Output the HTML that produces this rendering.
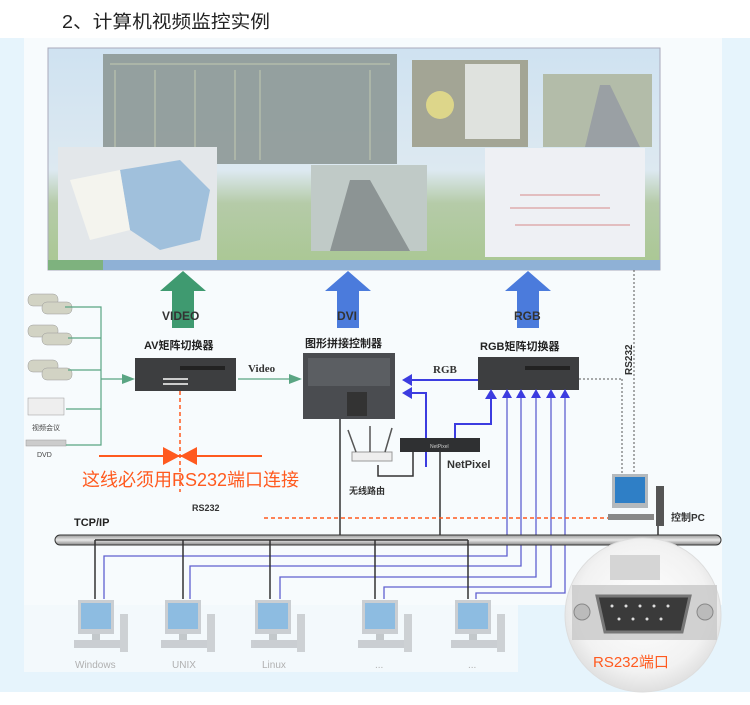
<!DOCTYPE html>
<html><head><meta charset="utf-8"><style>
html,body{margin:0;padding:0;width:750px;height:705px;overflow:hidden;background:#fff}
svg{display:block}
text{font-family:"Liberation Sans","Noto Sans CJK SC",sans-serif}
</style></head><body>
<svg width="750" height="705" viewBox="0 0 750 705" xmlns="http://www.w3.org/2000/svg">
<defs>
<linearGradient id="sky" x1="0" y1="0" x2="0" y2="1"><stop offset="0" stop-color="#cfe2f1"/><stop offset="0.55" stop-color="#dde9f1"/><stop offset="0.7" stop-color="#b5cba8"/><stop offset="1" stop-color="#a9c792"/></linearGradient>
<linearGradient id="bus" x1="0" y1="0" x2="0" y2="1"><stop offset="0" stop-color="#999"/><stop offset="0.5" stop-color="#e8e8e8"/><stop offset="1" stop-color="#888"/></linearGradient>
<radialGradient id="conn" cx="0.5" cy="0.45" r="0.6"><stop offset="0" stop-color="#fff"/><stop offset="0.7" stop-color="#f2f2f2"/><stop offset="1" stop-color="#d8d8d8"/></radialGradient>
<g id="pc" opacity="0.8"><rect x="0" y="0" width="36" height="34" fill="#c0c4c8"/><rect x="3" y="3" width="30" height="26" fill="#74addb"/><rect x="14" y="34" width="8" height="6" fill="#b8bcc0"/><rect x="-4" y="40" width="46" height="8" fill="#c0c4c8"/><rect x="42" y="14" width="8" height="38" fill="#c4c8cb"/></g>
</defs>
<text x="62" y="28" font-size="18" fill="#222" textLength="208" lengthAdjust="spacingAndGlyphs">2、计算机视频监控实例</text>
<rect x="0" y="38" width="750" height="654" fill="#e6f4fc"/>
<rect x="24" y="38" width="698" height="567" fill="#f7fbfd"/>
<rect x="24" y="605" width="494" height="67" fill="#f3f9fc"/>
<!-- screen -->
<rect x="48" y="48" width="612" height="222" fill="url(#sky)" stroke="#aab" />
<rect x="103" y="54" width="294" height="110" fill="#8d9896" opacity="0.9"/>
<g stroke="#d6ddb8" stroke-width="1" opacity="0.7"><line x1="110" y1="64" x2="390" y2="64"/><line x1="115" y1="70" x2="115" y2="160"/><line x1="155" y1="70" x2="155" y2="160"/><line x1="195" y1="70" x2="195" y2="160"/><line x1="235" y1="70" x2="235" y2="160"/><line x1="260" y1="70" x2="260" y2="160"/><line x1="370" y1="70" x2="370" y2="160"/></g>
<rect x="412" y="60" width="116" height="87" fill="#a3a595"/><rect x="465" y="64" width="55" height="75" fill="#dfe2de"/><circle cx="440" cy="105" r="14" fill="#ddd68a"/>
<rect x="543" y="74" width="109" height="73" fill="#b3bca9"/><polygon points="585,147 600,85 610,85 640,147" fill="#9aa0a4"/>
<rect x="58" y="147" width="159" height="113" fill="#e3e7ea"/><path d="M120 170 L180 160 L210 190 L200 240 L160 250 L130 230 Z" fill="#a0c0dc"/><path d="M70 180 L120 170 L130 230 L90 240 Z" fill="#f4f4ee"/>
<rect x="311" y="165" width="116" height="86" fill="#c0cac7"/><polygon points="330,251 350,180 370,180 410,251" fill="#8c9494"/>
<rect x="485" y="148" width="160" height="109" fill="#eef0f4"/><g stroke="#d68a8a" stroke-width="1"><line x1="520" y1="195" x2="600" y2="195"/><line x1="510" y1="208" x2="610" y2="208"/><line x1="515" y1="225" x2="630" y2="225"/></g>
<rect x="48" y="260" width="612" height="10" fill="#8fb1d6"/><rect x="48" y="260" width="55" height="10" fill="#7eb27e"/>
<!-- arrows -->
<polygon points="183,271 160,291 172,291 172,328 194,328 194,291 206,291" fill="#3f9a70"/>
<polygon points="348,271 325,291 337,291 337,328 359,328 359,291 371,291" fill="#4b7bdc"/>
<polygon points="528,271 505,291 517,291 517,328 539,328 539,291 551,291" fill="#4b7bdc"/>
<text x="162" y="320" font-size="12" font-weight="bold" fill="#333">VIDEO</text>
<text x="337" y="320" font-size="12" font-weight="bold" fill="#333">DVI</text>
<text x="514" y="320" font-size="12" font-weight="bold" fill="#333">RGB</text>
<line x1="634" y1="270" x2="634" y2="474" stroke="#555" stroke-dasharray="2,2"/>
<text transform="translate(632,375) rotate(-90)" font-size="10" font-weight="bold" fill="#333">RS232</text>
<!-- sources -->
<g fill="#d2d3c4" stroke="#999" stroke-width="0.5">
<rect x="28" y="294" width="30" height="12" rx="5"/><rect x="42" y="302" width="30" height="12" rx="5"/>
<rect x="28" y="325" width="30" height="12" rx="5"/><rect x="42" y="333" width="30" height="12" rx="5"/>
<rect x="28" y="360" width="30" height="12" rx="5"/><rect x="42" y="368" width="30" height="12" rx="5"/>
<rect x="28" y="398" width="36" height="17" fill="#eee"/><rect x="26" y="440" width="40" height="6" fill="#ccc"/></g>
<text x="32" y="430" font-size="7" fill="#444">视频会议</text><text x="37" y="457" font-size="7" fill="#444">DVD</text>
<g stroke="#5aa583" stroke-width="1.2" fill="none"><path d="M65 307 H101 V445 H66"/><line x1="68" y1="338" x2="101" y2="338"/><line x1="68" y1="370" x2="101" y2="370"/><line x1="66" y1="409" x2="101" y2="409"/><path d="M101 379 H128"/><path d="M238 379 H295"/></g>
<polygon points="135,379 122,374 122,384" fill="#5aa583"/><polygon points="302,379 289,374 289,384" fill="#5aa583"/>
<text x="248" y="372" font-size="11" font-weight="bold" fill="#333" style="font-family:'Liberation Serif',serif">Video</text>
<text x="144" y="349" font-size="11" font-weight="bold" fill="#222">AV矩阵切换器</text>
<rect x="135" y="358" width="101" height="33" fill="#3d3e40"/><rect x="180" y="366" width="45" height="4" fill="#222"/><g fill="#ccc"><rect x="163" y="378" width="25" height="2"/><rect x="163" y="383" width="25" height="2"/></g>
<line x1="180" y1="391" x2="180" y2="492" stroke="#ff5a1f" stroke-width="1.5" stroke-dasharray="4,3"/>
<line x1="99" y1="456" x2="262" y2="456" stroke="#ff5a1f" stroke-width="2"/>
<polygon points="163,447 163,465 180,456" fill="#ff5a1f"/><polygon points="197,447 197,465 180,456" fill="#ff5a1f"/>
<text x="82" y="486" font-size="18" fill="#ff5a1f">这线必须用RS232端口连接</text>
<text x="192" y="511" font-size="9" font-weight="bold" fill="#333">RS232</text>
<!-- controller -->
<text x="305" y="347" font-size="11" font-weight="bold" fill="#222">图形拼接控制器</text>
<rect x="303" y="353" width="92" height="66" fill="#4a4c50"/><rect x="308" y="358" width="82" height="28" fill="#5b5e62"/><rect x="347" y="392" width="20" height="24" fill="#333"/>
<line x1="340" y1="419" x2="340" y2="540" stroke="#333" stroke-width="1.5"/>
<!-- RGB matrix -->
<text x="480" y="350" font-size="11" font-weight="bold" fill="#222">RGB矩阵切换器</text>
<rect x="478" y="357" width="101" height="33" fill="#3d3e40"/><rect x="525" y="366" width="45" height="4" fill="#222"/>
<line x1="579" y1="379" x2="622" y2="379" stroke="#555" stroke-dasharray="2,2"/><line x1="622" y1="379" x2="622" y2="474" stroke="#555" stroke-dasharray="2,2"/>
<g stroke="#3c3ce0" stroke-width="2" fill="none"><line x1="478" y1="380" x2="408" y2="380"/><path d="M426 467 V393 H408"/><path d="M455 438 V424 H491 V396"/></g>
<polygon points="402,380 412,374 412,386" fill="#3c3ce0"/><polygon points="402,393 412,387 412,399" fill="#3c3ce0"/><polygon points="491,389 485,399 497,399" fill="#3c3ce0"/>
<text x="433" y="373" font-size="11" font-weight="bold" fill="#333" style="font-family:'Liberation Serif',serif">RGB</text>
<g stroke="#6060d0" stroke-width="1.3" fill="none">
<path d="M507 396 V556 H104 V599"/><path d="M521 396 V566 H190 V599"/><path d="M536 396 V577 H280 V599"/><path d="M551 396 V587 H384 V599"/><path d="M565 396 V593 H476 V599"/></g>
<g fill="#3c3ce0"><polygon points="507,389 502,398 512,398"/><polygon points="521,389 516,398 526,398"/><polygon points="536,389 531,398 541,398"/><polygon points="551,389 546,398 556,398"/><polygon points="565,389 560,398 570,398"/></g>
<!-- netpixel -->
<rect x="400" y="438" width="80" height="14" fill="#2f3032"/><text x="430" y="448" font-size="5" fill="#ccc">NetPixel</text>
<text x="447" y="468" font-size="11" font-weight="bold" fill="#333">NetPixel</text>
<path d="M413 452 V476 H378 V465" stroke="#333" stroke-width="1.5" fill="none"/>
<line x1="440" y1="452" x2="440" y2="540" stroke="#333" stroke-width="1.5"/>
<rect x="352" y="452" width="40" height="9" fill="#eee" stroke="#999"/><g stroke="#555" stroke-width="1.5"><line x1="356" y1="452" x2="348" y2="430"/><line x1="370" y1="452" x2="370" y2="426"/><line x1="385" y1="452" x2="392" y2="428"/></g>
<text x="349" y="494" font-size="9" font-weight="bold" fill="#333">无线路由</text>
<!-- control pc -->
<g transform="translate(612,474)"><rect x="0" y="0" width="36" height="34" fill="#b4b9bd"/><rect x="3" y="3" width="30" height="26" fill="#2f7fc6"/><rect x="-4" y="40" width="46" height="6" fill="#888"/><rect x="44" y="12" width="8" height="40" fill="#555"/></g>
<text x="671" y="521" font-size="10" font-weight="bold" fill="#333">控制PC</text>
<line x1="264" y1="518" x2="608" y2="518" stroke="#ff5a1f" stroke-width="1.5" stroke-dasharray="4,3"/>
<line x1="658" y1="526" x2="658" y2="540" stroke="#333" stroke-width="1.5"/>
<!-- bus -->
<text x="74" y="526" font-size="11" font-weight="bold" fill="#222">TCP/IP</text>
<rect x="55" y="535" width="666" height="10" rx="5" fill="url(#bus)" stroke="#333"/>
<g stroke="#333" stroke-width="1.5" fill="none"><path d="M95 540 V599"/><path d="M183 540 V599"/><path d="M270 540 V599"/><path d="M375 540 V599"/><path d="M468 540 V599"/><line x1="95" y1="540" x2="468" y2="540"/></g>
<use href="#pc" x="78" y="600"/><use href="#pc" x="165" y="600"/><use href="#pc" x="255" y="600"/><use href="#pc" x="362" y="600"/><use href="#pc" x="455" y="600"/>
<g font-size="10" fill="#b0b0b0" style="font-family:'Liberation Serif',serif"><text x="75" y="668">Windows</text><text x="172" y="668">UNIX</text><text x="262" y="668">Linux</text><text x="375" y="668">...</text><text x="468" y="668">...</text></g>
<!-- connector -->
<ellipse cx="643" cy="615" rx="78" ry="77" fill="url(#conn)" stroke="#ddd"/>
<rect x="610" y="555" width="50" height="25" fill="#d5d5d5"/>
<rect x="572" y="585" width="145" height="55" fill="#c8c8c8" opacity="0.8"/>
<circle cx="582" cy="612" r="8" fill="#bbb" stroke="#888"/><circle cx="705" cy="612" r="8" fill="#bbb" stroke="#888"/>
<path d="M597 596 H690 L682 632 H605 Z" fill="#3a3a3a" stroke="#777" stroke-width="3"/>
<g fill="#ddd"><circle cx="612" cy="606" r="1.5"/><circle cx="626" cy="606" r="1.5"/><circle cx="640" cy="606" r="1.5"/><circle cx="654" cy="606" r="1.5"/><circle cx="668" cy="606" r="1.5"/><circle cx="619" cy="619" r="1.5"/><circle cx="633" cy="619" r="1.5"/><circle cx="647" cy="619" r="1.5"/><circle cx="661" cy="619" r="1.5"/></g>
<text x="593" y="667" font-size="15" fill="#ff5a1f">RS232端口</text>
</svg>
</body></html>
